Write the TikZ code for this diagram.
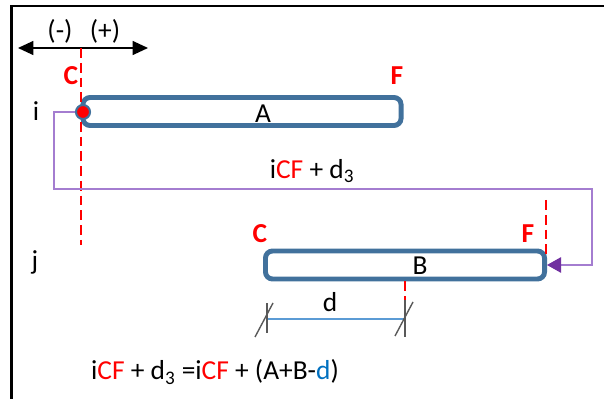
\documentclass[tikz,border=0pt]{standalone}
\usepackage{fontspec}
\setmainfont{Carlito}
\usetikzlibrary{arrows.meta}
\definecolor{barblue}{HTML}{41719C}
\definecolor{linepurple}{HTML}{A47DD0}
\definecolor{tippurple}{HTML}{7030A0}
\definecolor{dimblue}{HTML}{5B9BD5}
\definecolor{eqblue}{HTML}{0070C0}
\definecolor{tickgrey}{HTML}{595959}
\tikzstyle{bar}=[draw=barblue, line width=3.5pt, rounded corners=5pt, inner sep=0pt, minimum height=0.7cm]
\tikzstyle{txt}=[font=\fontsize{19.5}{23}\selectfont, inner sep=0pt]
\tikzstyle{endlbl}=[inner sep=0pt, text=red, font=\fontsize{19.5}{23}\selectfont\bfseries]
\tikzstyle{refline}=[red, dash pattern=on 7pt off 3.5pt, line width=0.8pt]
\tikzstyle{dot}=[circle, fill=red, draw=barblue, line width=1.5pt, inner sep=0pt, minimum size=0.35cm]
\tikzstyle{dedge}=[draw=linepurple, line width=1pt, -{Triangle[length=10pt,width=11pt,color=tippurple]}]
\tikzstyle{dirarrow}=[line width=1pt, {Triangle[length=11pt,width=10pt]}-{Triangle[length=11pt,width=10pt]}]
\tikzstyle{dimline}=[dimblue, line width=1pt]
\tikzstyle{tick}=[tickgrey, line width=1pt]
\tikzstyle{frame}=[line width=1.5pt]

\begin{document}
\begin{tikzpicture}[x=0.025cm, y=-0.025cm]
	\useasboundingbox (0,0) rectangle (604,399);
	\draw[frame] (11.5,399) -- (11.5,6) -- (604,6);

	% sign convention
	\coordinate (la) at (18,48);
	\coordinate (ra) at (148,48);
	\draw[dirarrow] (la) -- (ra);
	\node[txt] (neg) at (60,31) {(-)};
	\node[txt] (pos) at (105,31) {(+)};

	% element i
	\node[txt] (ri) at (36,111) {i};
	\node[bar, minimum width=7.95cm] (A) at (242,111.5) {};
	\node[txt] (lA) at (263,114) {A};
	\node[endlbl] (cA) at (71,76) {C};
	\node[endlbl] (fA) at (397,76) {F};
	\draw[refline] (81,48) -- (81,245);
	\node[dot] (dot) at (83,112) {};

	% element j
	\node[txt] (rj) at (35,262) {j};
	\node[bar, minimum width=6.975cm] (B) at (405,265) {};
	\node[txt] (lB) at (420,266) {B};
	\node[endlbl] (cB) at (260,234) {C};
	\node[endlbl] (fB) at (528,234) {F};
	\draw[refline] (546,200) -- (546,258);
	\draw[refline] (B.south) -- (405,300);

	% offset path
	\draw[dedge] (dot.west) -| (54,189) -| (592,265) -- (B.east);
	\node[txt] (off) at (312,171) {i\textcolor{red}{CF} + d\textsubscript{3}};

	% dimension d
	\coordinate (dl) at (267,319);
	\coordinate (dr) at (405,319);
	\draw[dimline] (dl) -- (dr);
	\draw[tick] (267,303) -- (267,333);
	\draw[tick] (255,337) -- (273,303);
	\draw[tick] (405,300) -- (405,337);
	\draw[tick] (395,336) -- (413,302);
	\node[txt] (ld) at (330,302) {d};

	\node[txt] (eq) at (215,372) {i\textcolor{red}{CF} + d\textsubscript{3} =i\textcolor{red}{CF} + (A+B-\textcolor{eqblue}{d})};
\end{tikzpicture}
\end{document}
